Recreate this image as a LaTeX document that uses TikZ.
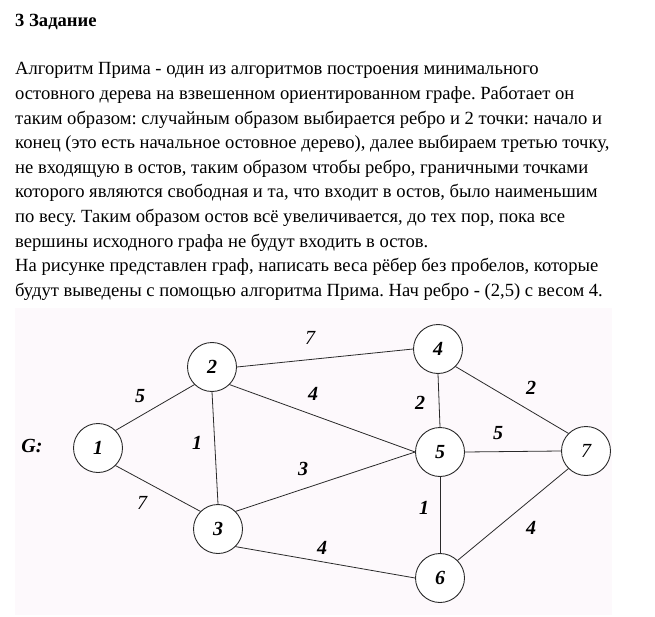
\documentclass[tikz,border=0pt]{standalone}
\usepackage{fontspec}
\setmainfont{Liberation Serif}
\frenchspacing
\definecolor{imgbg}{HTML}{FDF9FC}
\definecolor{edgecol}{HTML}{2A2A2A}
\tikzset{
  vertex/.style={circle, draw=edgecol, line width=0.9pt, fill=white, minimum size=49pt, inner sep=0pt,
    font=\fontsize{20}{20}\selectfont\bfseries\itshape},
  weight/.style={inner sep=0pt, font=\fontsize{20}{20}\selectfont\bfseries\itshape},
  thinnum/.style={font=\fontsize{20}{20}\selectfont\itshape},
  edge/.style={draw=edgecol, line width=0.8pt},
  textline/.style={anchor=base west, inner sep=0pt, font=\fontsize{18.6}{18.6}\selectfont}
}
\begin{document}
\begin{tikzpicture}[x=1pt, y=-1pt]

    % --- Page ---
    \useasboundingbox (0,0) rectangle (655,617);
    \fill[white] (0,0) rectangle (655,617);

    % --- Text ---
    \node[textline, font=\fontsize{18.6}{18.6}\selectfont\bfseries] (title) at (15,27) {3 Задание};
    \foreach \txt [count=\i from 0] in {
        {Алгоритм Прима - один из алгоритмов построения минимального},
        {остовного дерева на взвешенном ориентированном графе. Работает он},
        {таким образом: случайным образом выбирается ребро и 2 точки: начало и},
        {конец (это есть начальное остовное дерево), далее выбираем третью точку,},
        {не входящую в остов, таким образом чтобы ребро, граничными точками},
        {которого являются свободная и та, что входит в остов, было наименьшим},
        {по весу. Таким образом остов всё увеличивается, до тех пор, пока все},
        {вершины исходного графа не будут входить в остов.},
        {На рисунке представлен граф, написать веса рёбер без пробелов, которые},
        {будут выведены с помощью алгоритма Прима. Нач ребро - (2,5) с весом 4.}}
        \node[textline] (line\i) at (15,{75+24.6*\i}) {\txt};

    % --- Picture background ---
    \fill[imgbg] (15,308) rectangle (612,615);

    % --- Vertices ---
    \node[vertex] (v1) at (98,448) {1};
    \node[vertex] (v2) at (212,367) {2};
    \node[vertex] (v3) at (218,529) {3};
    \node[vertex] (v4) at (438,349) {4};
    \node[vertex] (v5) at (440,452) {5};
    \node[vertex] (v6) at (440,578) {6};
    \node[vertex, thinnum] (v7) at (586,451) {7};

    % --- Edges ---
    \draw[edge] (v1.45) -- (v2.-135);
    \draw[edge] (v1.-45) -- (v3.135);
    \draw[edge] (v2.south) -- (v3.north);
    \draw[edge] (v2.east) -- (v4.west);
    \draw[edge] (v2.-45) -- (v5.west);
    \draw[edge] (v3.45) -- (v5.west);
    \draw[edge] (v3.-45) -- (v6.west);
    \draw[edge] (v4.south) -- (v5.north);
    \draw[edge] (v4.-45) -- (v7.135);
    \draw[edge] (v5.east) -- (v7.west);
    \draw[edge] (v5.south) -- (v6.north);
    \draw[edge] (v6.45) -- (v7.-135);

    % --- Weights ---
    \node[weight] (w12) at (140,396) {5};
    \node[weight, thinnum] (w13) at (142,503) {7};
    \node[weight] (w23) at (197,443) {1};
    \node[weight, thinnum] (w24) at (310,338) {7};
    \node[weight] (w25) at (313,394) {4};
    \node[weight] (w35) at (303,469) {3};
    \node[weight] (w36) at (322,548) {4};
    \node[weight] (w45) at (420,403) {2};
    \node[weight] (w47) at (531,388) {2};
    \node[weight] (w57) at (498,433) {5};
    \node[weight] (w56) at (424,508) {1};
    \node[weight] (w67) at (531,528) {4};

    % --- Graph name ---
    \node[weight] (gname) at (32,446) {G:};

\end{tikzpicture}
\end{document}
